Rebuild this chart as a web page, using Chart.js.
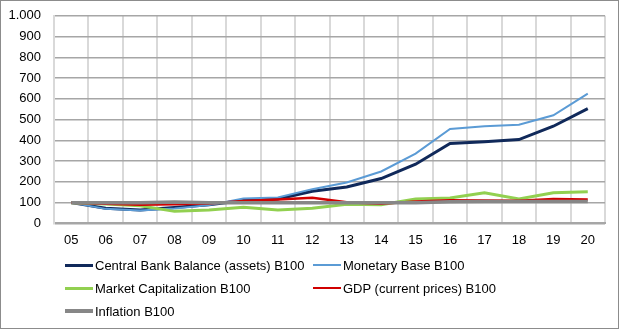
<!DOCTYPE html>
<html>
<head>
<meta charset="utf-8">
<script src="https://cdn.jsdelivr.net/npm/chart.js@4"></script>
<style>
  html, body { margin: 0; padding: 0; background: #fff; }
  #frame {
    position: absolute; left: 0; top: 0;
    width: 617px; height: 327px;
    border: 1px solid #8c8c8c;
  }
  #wrap { position: absolute; left: 0; top: -5px; width: 620px; height: 330px; }
  #legend {
    position: absolute; left: 65px; top: 256px;
    display: grid; grid-template-columns: 248px 248px; row-gap: 5px;
    font-family: "Liberation Sans", Arial, sans-serif; font-size: 13px; color: #000;
  }
  .item { display: flex; align-items: center; height: 18px; white-space: nowrap; }
  .swatch { width: 28px; margin-right: 2px; }
</style>
</head>
<body>
<div id="frame"></div>
<div id="wrap"><canvas id="chartB100" width="620" height="330"></canvas></div>
<div id="legend"></div>
<script>
'use strict';

const years = ['05','06','07','08','09','10','11','12','13','14','15','16','17','18','19','20'];

const centralBank   = [100, 73, 65, 77, 90, 110, 118, 155, 175, 216, 285, 385, 393, 404, 468, 553];
const monetaryBase  = [100, 70, 62, 72, 88, 120, 125, 165, 197, 250, 336, 455, 468, 475, 521, 625];
const marketCap     = [100, 93, 85, 58, 65, 78, 65, 73, 92, 90, 118, 122, 148, 118, 148, 153];
const gdp           = [100, 95, 90, 92, 96, 108, 115, 124, 102, 95, 105, 112, 110, 109, 117, 115];
const inflation     = [100, 100, 100, 103, 100, 100, 100, 100, 100, 100, 100, 104, 105, 105, 106, 106];

const seriesNames = [
    'Central Bank Balance (assets) B100',
    'Monetary Base B100',
    'Market Capitalization B100',
    'GDP (current prices) B100',
    'Inflation B100'
];
const seriesColors = ['#10295a', '#5b9bd5', '#92d050', '#d00000', '#878787'];
const seriesWidths = [3, 2, 3, 2.5, 3.5];
const seriesValues = [centralBank, monetaryBase, marketCap, gdp, inflation];

// later series sit on top, like in the spreadsheet
const datasets = seriesValues.map(function (vals, i) {
    return {
        label: seriesNames[i],
        data: vals,
        borderColor: seriesColors[i],
        backgroundColor: seriesColors[i],
        borderWidth: seriesWidths[i],
        pointRadius: 0,
        tension: 0,
        order: seriesValues.length - i
    };
});

function dotThousands(v) {
    return String(v).replace(/\B(?=(\d{3})+(?!\d))/g, '.');
}

const tickFont = { family: '"Liberation Sans", Arial, sans-serif', size: 13 };

const config = {
    type: 'line',
    data: { labels: years, datasets: datasets },
    options: {
        responsive: false,
        animation: false,
        layout: { padding: { top: 0, left: 8, right: 15, bottom: 68 } },
        plugins: {
            legend: { display: false },
            tooltip: { enabled: false }
        },
        scales: {
            x: {
                offset: true,
                grid: { offset: true, color: '#d9d9d9', lineWidth: 2, drawTicks: false },
                border: { color: '#a6a6a6', width: 2 },
                ticks: { color: '#000', font: tickFont, padding: 9, maxRotation: 0 }
            },
            y: {
                min: 0,
                max: 1000,
                afterFit: function (scale) { scale.width = 46; },
                grid: { color: '#a6a6a6', lineWidth: 1.5, drawTicks: false },
                border: { color: '#d9d9d9', width: 2 },
                ticks: {
                    stepSize: 100, color: '#000', font: tickFont, padding: 13,
                    callback: function (v) { return dotThousands(v); }
                }
            }
        }
    }
};

const ctx = document.querySelector('#chartB100').getContext('2d');
const chart = new Chart(ctx, config);

// two-column legend under the plot
const legendBox = document.querySelector('#legend');
chart.data.datasets.forEach(function (ds) {
    const item = document.createElement('div');
    item.className = 'item';
    const sw = document.createElement('span');
    sw.className = 'swatch';
    sw.style.height = ds.borderWidth + 'px';
    sw.style.background = ds.borderColor;
    const txt = document.createElement('span');
    txt.textContent = ds.label;
    item.appendChild(sw);
    item.appendChild(txt);
    legendBox.appendChild(item);
});
</script>
</body>
</html>
